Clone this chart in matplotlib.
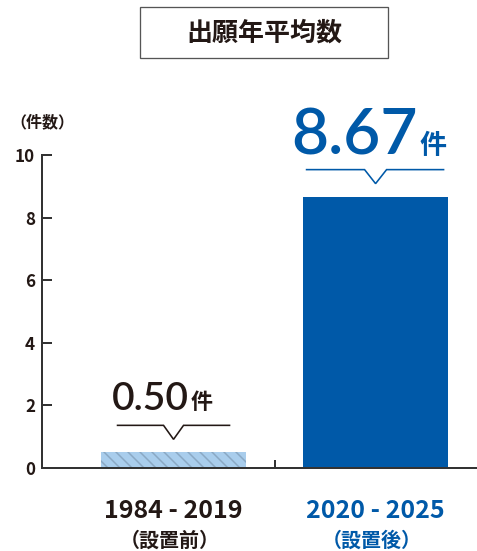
import matplotlib.pyplot as plt
import matplotlib.transforms as mtransforms
from matplotlib.patches import Rectangle

# data
periods = ["1984 - 2019", "2020 - 2025"]
period_notes = ["（設置前）", "（設置後）"]
averages = [0.50, 8.67]
value_labels = ["0.50", "8.67"]
y_ticks = [0, 2, 4, 6, 8, 10]

BLUE = "#0059a8"
LIGHT = "#a9cdec"
HATCH = "#8aa8c4"
INK = "#231815"
JP = ["Noto Sans CJK JP", "DejaVu Sans"]

plt.rcParams["font.family"] = JP
plt.rcParams["hatch.color"] = HATCH
plt.rcParams["hatch.linewidth"] = 1.5

W, H = 477, 551
fig = plt.figure(figsize=(W / 72, H / 72), dpi=72)
ax = fig.add_axes([42 / W, 83 / H, 1 - 42 / W, 313 / H])

x = range(len(periods))
ax.bar(x[0], averages[0], width=0.718, color=LIGHT, hatch="\\\\", linewidth=0)
ax.bar(x[1], averages[1], width=0.718, color=BLUE, linewidth=0)

ax.set_xlim(-0.651, 1.502)
ax.set_ylim(0, 10)
for side in ["top", "right"]:
    ax.spines[side].set_visible(False)
for side in ["left", "bottom"]:
    ax.spines[side].set_linewidth(2)
    ax.spines[side].set_color("#333333")

ax.set_yticks(y_ticks)
ax.set_yticklabels([str(t) for t in y_ticks], fontsize=17, fontweight="bold", color=INK)
ax.tick_params(axis="y", direction="in", length=10, width=2, color="#333333", pad=7)
ax.set_xticks([0.5])
ax.set_xticklabels([""])
ax.tick_params(axis="x", direction="in", length=8, width=2, color="#333333")


def px_offset(xd, yd):
    # display-pixel offsets anchored at a data point
    return mtransforms.Affine2D() + mtransforms.ScaledTranslation(xd, yd, ax.transData)


# value callouts: (line half-widths, number right edge, number size, unit size)
callouts = [
    dict(left=-56, right=56, vhalf=10, num_right=15, num_size=39, unit_size=22, color=INK),
    dict(left=-69, right=68, vhalf=11, num_right=42, num_size=64, unit_size=27, color=BLUE),
]
for i, (h, lab, c) in enumerate(zip(averages, value_labels, callouts)):
    tr = px_offset(i, h)
    ax.plot([c["left"], -c["vhalf"], 0, c["vhalf"], c["right"]],
            [27, 27, 13, 27, 27], color=c["color"], lw=1.6,
            transform=tr, clip_on=False, solid_joinstyle="miter")
    ax.text(c["num_right"], 42, lab, transform=tr, ha="right", va="baseline",
            fontsize=c["num_size"], family="Lato", fontweight="semibold",
            color=c["color"])
    ax.text(c["num_right"] + 2, 43, "件", transform=tr, ha="left", va="baseline",
            fontsize=c["unit_size"], fontweight="bold", color=c["color"])

# category labels
label_colors = [INK, BLUE]
xt = mtransforms.blended_transform_factory(ax.transData, fig.transFigure)
for i, (p, n) in enumerate(zip(periods, period_notes)):
    ax.text(i, 1 - 511 / H, p, transform=xt, ha="center", va="center",
            fontsize=25, fontweight="bold", color=label_colors[i])
    ax.text(i - 0.02, 1 - 540 / H, n, transform=xt, ha="center", va="center",
            fontsize=20, fontweight="bold", color=label_colors[i])

# axis unit label
fig.text(10 / W, 1 - 122 / H, "（件数）", ha="left", va="center",
         fontsize=16, fontweight="bold", color=INK)

# boxed title
fig.add_artist(Rectangle((140 / W, 1 - 58 / H), 248 / W, 51 / H,
                         transform=fig.transFigure, fill=False,
                         edgecolor="#555555", linewidth=1.3))
fig.text(264 / W, 1 - 33 / H, "出願年平均数", ha="center", va="center",
         fontsize=26, fontweight="bold", color=INK)

fig.savefig("out.png", dpi=72)
